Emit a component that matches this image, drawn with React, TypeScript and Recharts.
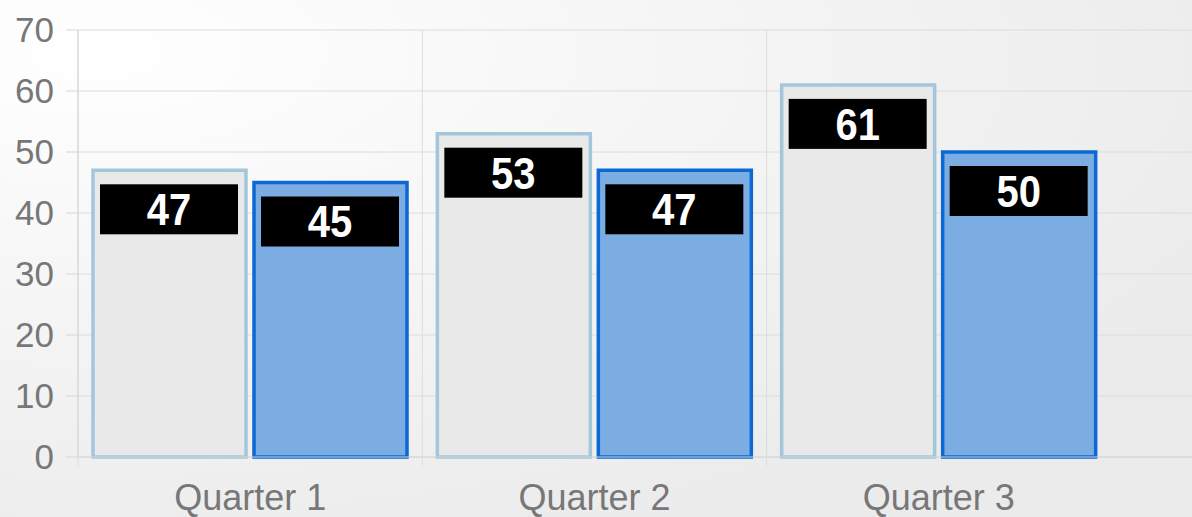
import {
  BarChart,
  Bar,
  XAxis,
  YAxis,
  CartesianGrid,
  LabelList,
  ReferenceLine,
} from 'recharts';

// Werte
const quarters = ['Quarter 1', 'Quarter 2', 'Quarter 3'];
const seriesA = [47, 53, 61];
const seriesB = [45, 47, 50];
const yTicks = [0, 10, 20, 30, 40, 50, 60, 70];

const chartData = quarters.map((q, i) => ({ quarter: q, a: seriesA[i], b: seriesB[i] }));

const FONT = '"Liberation Sans", Arial, sans-serif';

// schwarzes Kästchen mit weisser Zahl oben im Balken
function ValueBox(props: any) {
  const { x, y, width, value } = props;
  const bx = Number(x) + 7;
  const by = Number(y) + 14;
  const bw = Number(width) - 15;
  return (
    <g>
      <rect x={bx} y={by} width={bw} height={50} fill="#000" />
      <text
        x={bx + bw / 2}
        y={by + 41}
        textAnchor="middle"
        fill="#fff"
        fontFamily={FONT}
        fontWeight="bold"
        fontSize={40}
        transform={`translate(0 ${by + 41}) scale(1 1.12) translate(0 ${-(by + 41)})`}
      >
        {value}
      </text>
    </g>
  );
}

export default function App() {
  return (
    <div
      style={{
        position: 'absolute',
        left: 0,
        top: 0,
        width: 1192,
        height: 517,
        background: 'radial-gradient(ellipse at 8% 10%, #ffffff 0%, #f6f6f6 35%, #ebebeb 80%)',
      }}
    >
      <BarChart
        width={1192}
        height={517}
        data={chartData}
        margin={{ top: 30, right: 0, left: 0, bottom: 0 }}
        barSize={153}
        barGap={8}
      >
        <CartesianGrid stroke="#dcdcdc" vertical={false} />
        <XAxis
          dataKey="quarter"
          axisLine={{ stroke: '#d6d6d6' }}
          tickLine={false}
          tickSize={0}
          tickMargin={27}
          height={60}
          padding={{ left: 0, right: 81 }}
          tick={{ fontSize: 36, fill: '#777', fontFamily: FONT }}
        />
        <YAxis
          domain={[0, 70]}
          ticks={yTicks}
          width={78}
          axisLine={{ stroke: '#d6d6d6' }}
          tickLine={{ stroke: '#d6d6d6' }}
          tickSize={12}
          tickMargin={12}
          tick={{ fontSize: 35, fill: '#777', fontFamily: FONT }}
        />
        {quarters.map((q) => (
          <ReferenceLine
            key={q}
            segment={[{ x: q, y: -1.4 }, { x: q, y: 70 }]}
            position="start"
            ifOverflow="visible"
            stroke="#dcdcdc"
          />
        ))}
        <Bar dataKey="a" fill="#e9e9e9" stroke="#a3c6db" strokeWidth={3.5} isAnimationActive={false}>
          <LabelList dataKey="a" content={ValueBox} />
        </Bar>
        <Bar dataKey="b" fill="#7badE2" stroke="#0b68d4" strokeWidth={3.5} isAnimationActive={false}>
          <LabelList dataKey="b" content={ValueBox} />
        </Bar>
      </BarChart>
    </div>
  );
}
